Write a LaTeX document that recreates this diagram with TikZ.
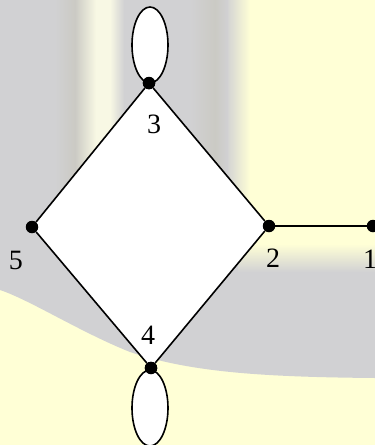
\documentclass[tikz,border=0pt]{standalone}
\usepackage{fontspec}
\setmainfont{Liberation Serif}
\definecolor{bgY}{RGB}{255,255,214}
\definecolor{bgG}{RGB}{209,209,211}
\definecolor{bgL}{RGB}{248,248,228}
\definecolor{bgB}{RGB}{203,202,196}
\pgfdeclarelayer{bg}
\pgfsetlayers{bg,main}
\begin{document}
\begin{tikzpicture}[x=1pt,y=-1pt,
  dot/.style={circle,fill=black,inner sep=0pt,minimum size=12.5pt},
  edge/.style={line width=1.6pt,black},
  loopst/.style={line width=1.6pt,black,fill=white},
  lab/.style={font=\fontsize{28}{32}\selectfont,inner sep=0pt}]
\useasboundingbox (0,0) rectangle (375,445);
% vertices
\node[dot] (n3) at (149,83) {};
\node[dot] (n5) at (32,227) {};
\node[dot] (n2) at (269,226) {};
\node[dot] (n1) at (373,226) {};
\node[dot] (n4) at (151,368) {};
% background
\begin{pgfonlayer}{bg}
\fill[bgY] (0,0) rectangle (375,445);
\fill[bgG] (0,0) -- (238,0) -- (238,255) -- (375,258) -- (375,378)
  .. controls (260,377) and (190,372) .. (130,352)
  .. controls (80,332) and (30,300) .. (0,290) -- cycle;
\shade[left color=bgG,right color=bgY] (226,0) rectangle (250,256);
\shade[top color=bgY,bottom color=bgG] (238,244) rectangle (375,272);
\shade[left color=bgG,right color=bgB] (55,0) rectangle (75,210);
\shade[left color=bgB,right color=bgL] (75,0) rectangle (96,210);
\fill[bgL] (96,0) rectangle (110,210);
\shade[left color=bgL,right color=bgG] (110,0) rectangle (124,210);
\shade[left color=bgG,right color=bgB] (190,0) rectangle (215,250);
\shade[left color=bgB,right color=bgG] (215,0) rectangle (228,250);
\fill[white] (n3.center) -- (n2.center) -- (n4.center) -- (n5.center) -- cycle;
\end{pgfonlayer}
% loops
\path (n3.center) ++(1,-38) coordinate (l3c);
\path (n4.center) ++(-1,40) coordinate (l4c);
\draw[loopst] (l3c) ellipse [x radius=18,y radius=38];
\draw[loopst] (l4c) ellipse [x radius=18,y radius=38];
% edges
\draw[edge] (n3) -- (n2);
\draw[edge] (n2) -- (n4);
\draw[edge] (n4) -- (n5);
\draw[edge] (n5) -- (n3);
\draw[edge] (n2) -- (n1);
% redraw dots on top
\node[dot] at (n3) {};
\node[dot] at (n4) {};
% labels
\node[lab] (t3) at (154,124) {3};
\node[lab] (t5) at (16,260) {5};
\node[lab] (t2) at (273,258) {2};
\node[lab] (t1) at (370,259) {1};
\node[lab] (t4) at (148,335) {4};
\end{tikzpicture}
\end{document}
